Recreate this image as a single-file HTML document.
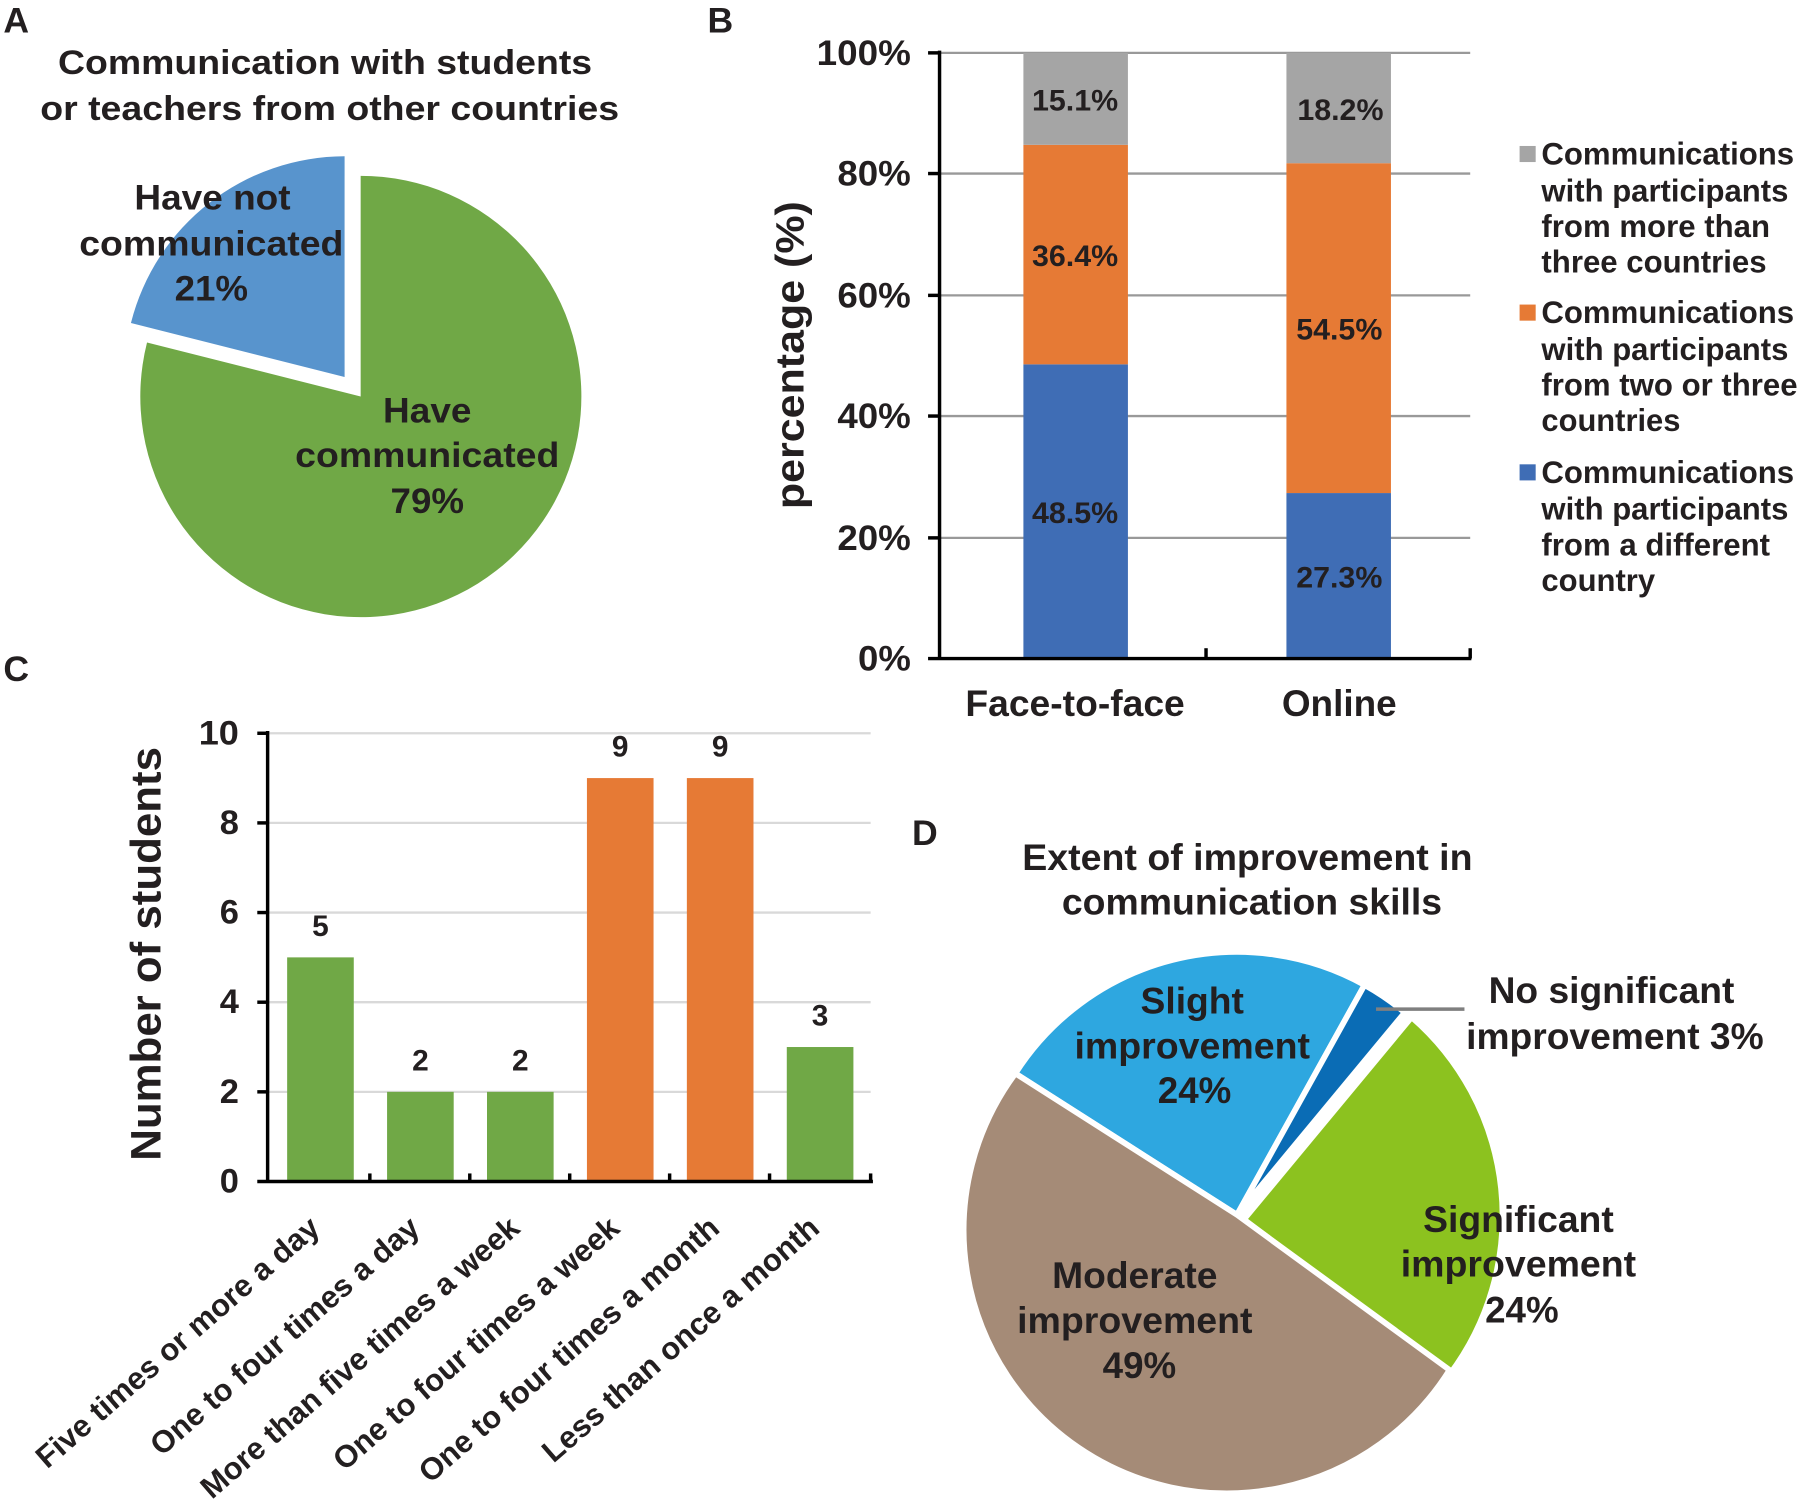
<!DOCTYPE html>
<html><head><meta charset="utf-8"><style>
html,body{margin:0;padding:0;background:#fff;}
svg{display:block;}
text{font-family:"Liberation Sans",Arial,sans-serif;font-weight:bold;fill:#231f20;dominant-baseline:central;}
</style></head><body>
<svg width="1801" height="1501" viewBox="0 0 1568 1306" preserveAspectRatio="none" xmlns="http://www.w3.org/2000/svg">
<rect width="1568" height="1306" fill="#fff"/>
<g font-size="31"><text x="3" y="18">A</text><text x="616" y="18">B</text><text x="3" y="582">C</text><text x="794" y="725">D</text></g>

<!-- Panel A -->
<g font-size="30" text-anchor="middle" lengthAdjust="spacingAndGlyphs">
<text x="283" y="55" textLength="465" lengthAdjust="spacingAndGlyphs">Communication with students</text>
<text x="287" y="95" textLength="504" lengthAdjust="spacingAndGlyphs">or teachers from other countries</text>
</g>
<path d="M314,345 L314,153 A192,192 0 1 1 128,298 Z" fill="#70a846"/>
<path d="M300,328 L300,136 A192,192 0 0 0 114,281 Z" fill="#5894cd"/>
<g font-size="31" text-anchor="middle">
<text x="185" y="172" textLength="136" lengthAdjust="spacingAndGlyphs">Have not</text>
<text x="184" y="212" textLength="230" lengthAdjust="spacingAndGlyphs">communicated</text>
<text x="184" y="251" textLength="64" lengthAdjust="spacingAndGlyphs">21%</text>
<text x="372" y="357" textLength="77" lengthAdjust="spacingAndGlyphs">Have</text>
<text x="372" y="396" textLength="230" lengthAdjust="spacingAndGlyphs">communicated</text>
<text x="372" y="436" textLength="64" lengthAdjust="spacingAndGlyphs">79%</text>
</g>

<!-- Panel B -->
<g stroke="#999" stroke-width="2">
<line x1="818" y1="46" x2="1280" y2="46"/><line x1="818" y1="151" x2="1280" y2="151"/>
<line x1="818" y1="257" x2="1280" y2="257"/><line x1="818" y1="362" x2="1280" y2="362"/>
<line x1="818" y1="468" x2="1280" y2="468"/>
</g>
<rect x="891" y="317" width="91" height="256" fill="#3f6db5"/>
<rect x="891" y="126" width="91" height="191" fill="#e67a35"/>
<rect x="891" y="46" width="91" height="80" fill="#a5a5a5"/>
<rect x="1120" y="429" width="91" height="144" fill="#3f6db5"/>
<rect x="1120" y="142" width="91" height="287" fill="#e67a35"/>
<rect x="1120" y="46" width="91" height="96" fill="#a5a5a5"/>
<g stroke="#000" stroke-width="3"><line x1="818" y1="44" x2="818" y2="574"/><line x1="808" y1="46" x2="818" y2="46"/>
<line x1="808" y1="151" x2="818" y2="151"/><line x1="808" y1="257" x2="818" y2="257"/><line x1="808" y1="362" x2="818" y2="362"/><line x1="808" y1="468" x2="818" y2="468"/>
<line x1="808" y1="573" x2="1281" y2="573"/><line x1="1050" y1="573" x2="1050" y2="564"/><line x1="1280" y1="573" x2="1280" y2="564"/></g>
<g font-size="31" text-anchor="end">
<text x="793" y="46" textLength="82" lengthAdjust="spacingAndGlyphs">100%</text>
<text x="793" y="151" textLength="64" lengthAdjust="spacingAndGlyphs">80%</text>
<text x="793" y="257" textLength="64" lengthAdjust="spacingAndGlyphs">60%</text>
<text x="793" y="362" textLength="64" lengthAdjust="spacingAndGlyphs">40%</text>
<text x="793" y="468" textLength="64" lengthAdjust="spacingAndGlyphs">20%</text>
<text x="793" y="573" textLength="46" lengthAdjust="spacingAndGlyphs">0%</text>
</g>
<g font-size="26" text-anchor="middle">
<text x="936" y="88" textLength="75" lengthAdjust="spacingAndGlyphs">15.1%</text>
<text x="936" y="223" textLength="75" lengthAdjust="spacingAndGlyphs">36.4%</text>
<text x="936" y="447" textLength="75" lengthAdjust="spacingAndGlyphs">48.5%</text>
<text x="1167" y="96" textLength="75" lengthAdjust="spacingAndGlyphs">18.2%</text>
<text x="1166" y="287" textLength="75" lengthAdjust="spacingAndGlyphs">54.5%</text>
<text x="1166" y="503" textLength="75" lengthAdjust="spacingAndGlyphs">27.3%</text>
</g>
<g font-size="32" text-anchor="middle">
<text x="936" y="612" textLength="191" lengthAdjust="spacingAndGlyphs">Face-to-face</text>
<text x="1166" y="612" textLength="100" lengthAdjust="spacingAndGlyphs">Online</text></g>
<text font-size="35" text-anchor="middle" transform="translate(688,309) rotate(-90)" textLength="268" lengthAdjust="spacingAndGlyphs">percentage (%)</text>
<rect x="1323" y="127" width="14" height="14" fill="#a5a5a5"/>
<rect x="1323" y="265" width="14" height="14" fill="#e67a35"/>
<rect x="1323" y="404" width="14" height="14" fill="#3f6db5"/>
<g font-size="27">
<text x="1342" y="134" textLength="220" lengthAdjust="spacingAndGlyphs">Communications</text>
<text x="1342" y="166" textLength="215" lengthAdjust="spacingAndGlyphs">with participants</text>
<text x="1342" y="197" textLength="199" lengthAdjust="spacingAndGlyphs">from more than</text>
<text x="1342" y="228" textLength="196" lengthAdjust="spacingAndGlyphs">three countries</text>
<text x="1342" y="272" textLength="220" lengthAdjust="spacingAndGlyphs">Communications</text>
<text x="1342" y="304" textLength="215" lengthAdjust="spacingAndGlyphs">with participants</text>
<text x="1342" y="335" textLength="223" lengthAdjust="spacingAndGlyphs">from two or three</text>
<text x="1342" y="366" textLength="121" lengthAdjust="spacingAndGlyphs">countries</text>
<text x="1342" y="411" textLength="220" lengthAdjust="spacingAndGlyphs">Communications</text>
<text x="1342" y="443" textLength="215" lengthAdjust="spacingAndGlyphs">with participants</text>
<text x="1342" y="474" textLength="199" lengthAdjust="spacingAndGlyphs">from a different</text>
<text x="1342" y="505" textLength="99" lengthAdjust="spacingAndGlyphs">country</text>
</g>

<!-- Panel C -->
<g stroke="#d9d9d9" stroke-width="2">
<line x1="233" y1="638" x2="758" y2="638"/><line x1="233" y1="716" x2="758" y2="716"/><line x1="233" y1="794" x2="758" y2="794"/>
<line x1="233" y1="872" x2="758" y2="872"/><line x1="233" y1="950" x2="758" y2="950"/>
</g>
<g fill="#70a846"><rect x="250" y="833" width="58" height="195"/><rect x="337" y="950" width="58" height="78"/><rect x="424" y="950" width="58" height="78"/><rect x="685" y="911" width="58" height="117"/></g>
<g fill="#e67a35"><rect x="511" y="677" width="58" height="351"/><rect x="598" y="677" width="58" height="351"/></g>
<g stroke="#000" stroke-width="3"><line x1="233" y1="636" x2="233" y2="1029"/><line x1="224" y1="1028" x2="760" y2="1028"/>
<line x1="224" y1="638" x2="233" y2="638"/><line x1="224" y1="716" x2="233" y2="716"/><line x1="224" y1="794" x2="233" y2="794"/><line x1="224" y1="872" x2="233" y2="872"/><line x1="224" y1="950" x2="233" y2="950"/>
<line x1="322" y1="1028" x2="322" y2="1021"/><line x1="409" y1="1028" x2="409" y2="1021"/><line x1="496" y1="1028" x2="496" y2="1021"/><line x1="583" y1="1028" x2="583" y2="1021"/><line x1="670" y1="1028" x2="670" y2="1021"/><line x1="758" y1="1028" x2="758" y2="1021"/></g>
<g font-size="30" text-anchor="end">
<text x="208" y="638" textLength="35" lengthAdjust="spacingAndGlyphs">10</text><text x="208" y="716">8</text><text x="208" y="794">6</text><text x="208" y="872">4</text><text x="208" y="950">2</text><text x="208" y="1028">0</text>
</g>
<g font-size="26" text-anchor="middle">
<text x="279" y="806">5</text><text x="366" y="923">2</text><text x="453" y="923">2</text><text x="540" y="650">9</text><text x="627" y="650">9</text><text x="714" y="884">3</text>
</g>
<text font-size="37" text-anchor="middle" transform="translate(128,830) rotate(-90)" textLength="360" lengthAdjust="spacingAndGlyphs">Number of students</text>
<g font-size="27" text-anchor="end">
<text transform="translate(274,1064) rotate(-41)">Five times or more a day</text>
<text transform="translate(361,1064) rotate(-41)">One to four times a day</text>
<text transform="translate(448,1064) rotate(-41)">More than five times a week</text>
<text transform="translate(535,1064) rotate(-41)">One to four times a week</text>
<text transform="translate(622,1064) rotate(-41)">One to four times a month</text>
<text transform="translate(709,1064) rotate(-41)">Less than once a month</text>
</g>

<!-- Panel D -->
<g font-size="32" text-anchor="middle">
<text x="1086" y="746" textLength="392" lengthAdjust="spacingAndGlyphs">Extent of improvement in</text>
<text x="1090" y="785" textLength="331" lengthAdjust="spacingAndGlyphs">communication skills</text></g>
<g stroke="#fff" stroke-width="5">
<path d="M1077,1057 L884,934 A229,229 0 0 1 1188,857 Z" fill="#2ea7e0"/>
<path d="M1077,1057 L1188,857 A229,229 0 0 1 1223,881 Z" fill="#0a6cb5"/>
<path d="M1083,1061 L1229,885 A229,229 0 0 1 1262,1196 Z" fill="#8cc21f"/>
<path d="M1077,1057 L1262,1192 A229,229 0 1 1 884,934 Z" fill="#a58b77"/>
</g>
<line x1="1198" y1="878" x2="1275" y2="878" stroke="#7f7f7f" stroke-width="3"/>
<g font-size="32" text-anchor="middle">
<text x="1038" y="871" textLength="90" lengthAdjust="spacingAndGlyphs">Slight</text>
<text x="1038" y="910" textLength="205" lengthAdjust="spacingAndGlyphs">improvement</text>
<text x="1040" y="949" textLength="64" lengthAdjust="spacingAndGlyphs">24%</text>
<text x="1403" y="862" textLength="214" lengthAdjust="spacingAndGlyphs">No significant</text>
<text x="1406" y="902" textLength="259" lengthAdjust="spacingAndGlyphs">improvement 3%</text>
<text x="1322" y="1061" textLength="166" lengthAdjust="spacingAndGlyphs">Significant</text>
<text x="1322" y="1100" textLength="205" lengthAdjust="spacingAndGlyphs">improvement</text>
<text x="1325" y="1140" textLength="64" lengthAdjust="spacingAndGlyphs">24%</text>
<text x="988" y="1110" textLength="144" lengthAdjust="spacingAndGlyphs">Moderate</text>
<text x="988" y="1149" textLength="205" lengthAdjust="spacingAndGlyphs">improvement</text>
<text x="992" y="1188" textLength="64" lengthAdjust="spacingAndGlyphs">49%</text>
</g>
</svg>
</body></html>
